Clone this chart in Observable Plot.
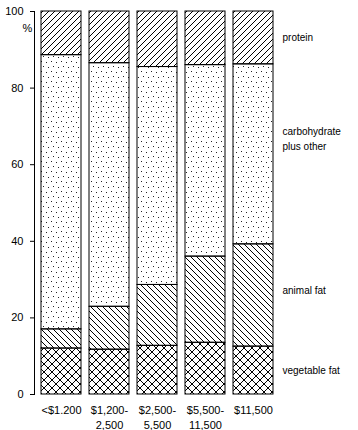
<!DOCTYPE html>
<html>
<head>
<meta charset="utf-8">
<script src="https://cdn.jsdelivr.net/npm/d3@7"></script>
<script src="https://cdn.jsdelivr.net/npm/@observablehq/plot@0.6"></script>
<style>
  html, body { margin: 0; padding: 0; background: #fff; }
  #chart svg { display: block; }
</style>
</head>
<body>
<svg width="0" height="0" style="position:absolute">
  <defs>
    <pattern id="pat-protein" width="6" height="6" patternUnits="userSpaceOnUse">
      <path d="M-1,7 L7,-1 M-1,1 L1,-1 M5,7 L7,5" stroke="#000" stroke-width="1"/>
    </pattern>
    <pattern id="pat-carb" width="10" height="10" patternUnits="userSpaceOnUse">
      <rect x="1" y="1" width="1" height="1" fill="#222"/>
      <rect x="6" y="2" width="1" height="1" fill="#222"/>
      <rect x="3" y="6" width="1" height="1" fill="#222"/>
      <rect x="8" y="7" width="1" height="1" fill="#222"/>
    </pattern>
    <pattern id="pat-animal" width="6" height="6" patternUnits="userSpaceOnUse">
      <path d="M-1,-1 L7,7 M-1,5 L1,7 M5,-1 L7,1" stroke="#000" stroke-width="1"/>
    </pattern>
    <pattern id="pat-veg" width="8" height="8" patternUnits="userSpaceOnUse">
      <path d="M-1,-1 L9,9 M9,-1 L-1,9" stroke="#000" stroke-width="1"/>
    </pattern>
  </defs>
</svg>
<div id="chart"></div>
<script>
// ---- data ----
const incomeGroups = ["<$1.200", "$1,200-\n2,500", "$2,500-\n5,500", "$5,500-\n11,500", "$11,500"];
const components = ["vegetable fat", "animal fat", "carbohydrate\nplus other", "protein"];
const vegetableFat = [12.0, 11.7, 12.7, 13.5, 12.5];
const animalFat = [5.0, 11.2, 15.9, 22.5, 26.7];
const carbohydratePlusOther = [71.6, 63.6, 56.9, 50.0, 47.0];
const protein = [11.4, 13.5, 14.5, 14.0, 13.8];
const yTicks = [0, 20, 40, 60, 80, 100];
const patternFills = ["url(#pat-veg)", "url(#pat-animal)", "url(#pat-carb)", "url(#pat-protein)"];

const series = [vegetableFat, animalFat, carbohydratePlusOther, protein];
const rows = [];
incomeGroups.forEach((g, i) => {
  components.forEach((c, j) => rows.push({group: g, component: c, value: series[j][i]}));
});

// label positions: midpoints of the last bar's segments
const last = incomeGroups.length - 1;
let acc = 0;
const labels = components.map((c, j) => {
  const v = series[j][last];
  const mid = acc + v / 2;
  acc += v;
  return {group: incomeGroups[last], component: c, mid};
});

const font = "'Liberation Sans', Arial, Helvetica, sans-serif";

const chart = Plot.plot({
  width: 358,
  height: 430,
  marginLeft: 34,
  marginRight: 78,
  marginTop: 11,
  marginBottom: 36,
  style: {background: "#fff", fontFamily: font, fontSize: "11px", color: "#000"},
  x: {domain: incomeGroups, paddingInner: 8 / 48, paddingOuter: 7 / 48, label: null},
  y: {domain: [0, 100], label: null},
  color: {type: "ordinal", domain: components, range: patternFills},
  marks: [
    Plot.barY(rows, {x: "group", y: "value", fill: "component", stroke: "#000", strokeWidth: 1}),
    Plot.frame({anchor: "left", stroke: "#000"}),
    Plot.axisY({ticks: yTicks, tickSize: 4, tickPadding: 7, label: null, fontSize: 11}),
    Plot.axisX({tickSize: 0, tickPadding: 9, label: null, fontSize: 11, lineHeight: 1.36}),
    Plot.text(["%"], {frameAnchor: "top-left", dx: -7, dy: 13, textAnchor: "middle", fontSize: 11}),
    Plot.text(labels.filter(d => d.component === "protein" || d.component === "vegetable fat"), {
      x: "group", y: "mid", text: "component", textAnchor: "start", dx: 29, fontSize: 10
    }),
    Plot.text(labels.filter(d => d.component === "animal fat"), {
      x: "group", y: "mid", text: "component", textAnchor: "start", dx: 29, dy: -5, fontSize: 10
    }),
    Plot.text(labels.filter(d => d.component.startsWith("carbohydrate")), {
      x: "group", y: "mid", text: "component", textAnchor: "start", dx: 29, dy: -17, fontSize: 10, lineHeight: 1.5
    })
  ]
});
document.getElementById("chart").appendChild(chart);
</script>
</body>
</html>
